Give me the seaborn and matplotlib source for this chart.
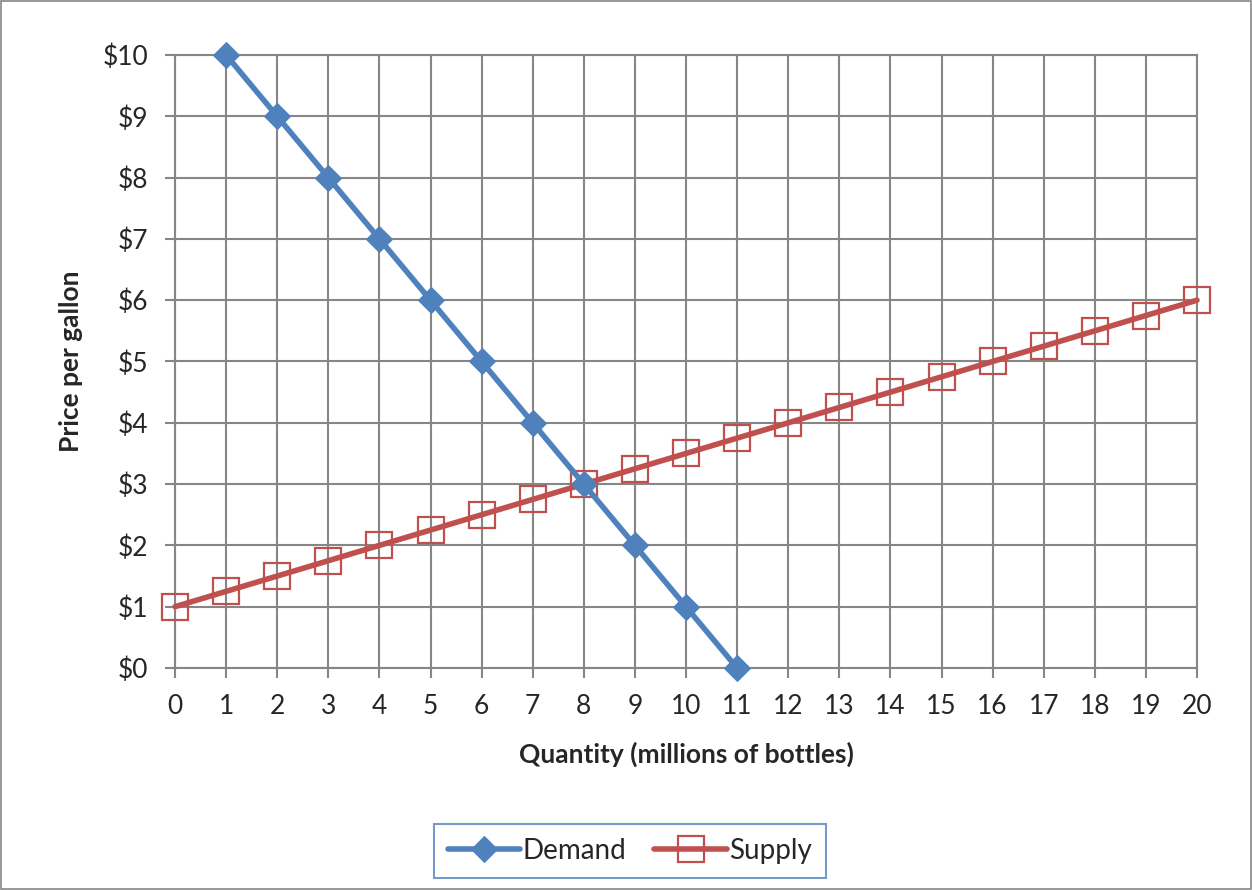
import pandas as pd
import matplotlib.pyplot as plt
import seaborn as sns
from matplotlib.patches import Rectangle

# demand / supply schedule
demand_qty = [1, 2, 3, 4, 5, 6, 7, 8, 9, 10, 11]
demand_price = [10, 9, 8, 7, 6, 5, 4, 3, 2, 1, 0]
supply_qty = list(range(0, 21))
supply_price = [1.00, 1.25, 1.50, 1.75, 2.00, 2.25, 2.50, 2.75, 3.00, 3.25, 3.50,
                3.75, 4.00, 4.25, 4.50, 4.75, 5.00, 5.25, 5.50, 5.75, 6.00]

sns.set_style('white')
plt.rcParams['font.family'] = ['Lato', 'DejaVu Sans']

demand = pd.DataFrame({'qty': demand_qty, 'price': demand_price})
supply = pd.DataFrame({'qty': supply_qty, 'price': supply_price})

fig = plt.figure(figsize=(12.52, 8.90), dpi=100)
ax = fig.add_axes([175/1252, 1 - 668/890, (1197 - 175)/1252, (668 - 55)/890])

grid_col = '#868686'
sns.lineplot(data=demand, x='qty', y='price', ax=ax, color='#4F81BD', lw=4,
             marker='D', markersize=13, markeredgecolor='#4F81BD', label='Demand',
             zorder=4, clip_on=False)
sns.lineplot(data=supply, x='qty', y='price', ax=ax, color='#C0504D', lw=4,
             marker='s', markersize=19, markerfacecolor='none', markeredgecolor='#C0504D',
             markeredgewidth=1.6, label='Supply', zorder=3, clip_on=False)

ax.set_xlim(0, 20)
ax.set_ylim(0, 10)
ax.set_xticks(range(0, 21))
ax.set_yticks(range(0, 11))
ax.set_yticklabels(['$' + str(v) for v in range(0, 11)])
ax.grid(True, color=grid_col, lw=1.5)
for s in ax.spines.values():
    s.set_color(grid_col)
    s.set_linewidth(1.5)
ax.tick_params(axis='x', length=7, width=1.5, color=grid_col, labelsize=19,
               direction='out', bottom=True, pad=12)
ax.tick_params(axis='y', length=7, width=1.5, color=grid_col, labelsize=19,
               direction='out', left=True, pad=12)
ax.set_xlabel('Quantity (millions of bottles)', fontsize=19, fontweight='bold', labelpad=16)
ax.set_ylabel('Price per gallon', fontsize=19, fontweight='bold', labelpad=14)
ax.get_legend().remove()

h, l = ax.get_legend_handles_labels()
leg = fig.legend(h, l, loc='center', bbox_to_anchor=(630/1252, 1 - 851/890), ncol=2,
                 fontsize=20, frameon=True, fancybox=False, handlelength=2.6,
                 columnspacing=1.0, handletextpad=0.1, borderpad=0.5)
leg.get_frame().set_edgecolor('#4F81BD')
leg.get_frame().set_linewidth(1.5)

fig.patches.append(Rectangle((0.001, 0.001), 0.998, 0.998, transform=fig.transFigure,
                             fill=False, edgecolor='#868686', lw=1.2))

fig.savefig('out.png', dpi=100)
